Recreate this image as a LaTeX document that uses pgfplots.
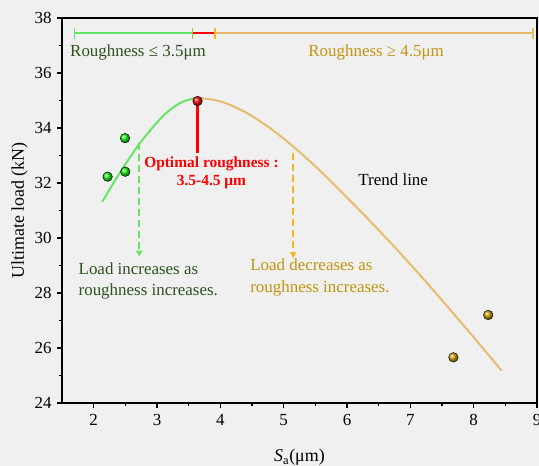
\documentclass[border=0pt]{standalone}
\usepackage{pgfplots}
\pgfplotsset{compat=1.18}
\usepackage{fontspec}
\setmainfont{Liberation Serif}
\usetikzlibrary{arrows.meta}
\definecolor{bg}{RGB}{240,240,240}
\definecolor{lgreen}{RGB}{102,228,102}
\definecolor{dgreen}{RGB}{45,82,30}
\definecolor{tancol}{RGB}{230,188,110}
\definecolor{goldtext}{RGB}{196,148,16}
\definecolor{ogold}{RGB}{242,182,30}
\definecolor{olivecap}{RGB}{150,200,60}
\definecolor{pured}{RGB}{255,0,0}
\definecolor{ballgreen}{RGB}{20,235,20}
\definecolor{ballgold}{RGB}{205,155,0}
\begin{document}
\begin{tikzpicture}
\fill[bg] (-62bp,-63bp) rectangle (477bp,403bp);
\begin{axis}[
  at={(0,0)}, anchor=south west, scale only axis,
  width=475bp, height=385bp,
  xmin=1.5, xmax=9, ymin=24, ymax=38,
  xtick={2,...,9}, ytick={24,26,...,38},
  minor x tick num=1, minor y tick num=1,
  tick align=outside, xtick pos=left, ytick pos=left,
  major tick length=5bp, minor tick length=3bp,
  axis line style={line width=1.5bp, black},
  every tick/.style={line width=1.4bp, black},
  ticklabel style={font=\fontsize{17}{20}\selectfont},
  yticklabel style={xshift=-2bp},
  xticklabel style={yshift=-3bp},
  /pgf/number format/assume math mode=true,
  xlabel={\textit{S}\textsubscript{a}(μm)},
  ylabel={Ultimate load (kN)},
  every axis x label/.style={at={([yshift=-58.5bp]axis description cs:0.5,0)}, anchor=base, font=\fontsize{18}{21}\selectfont},
  every axis y label/.style={at={([xshift=-38bp]axis description cs:0,0.5)}, rotate=90, anchor=base, font=\fontsize{18}{21}\selectfont},
  clip=false,
]
% trend line
\addplot[color=lgreen, line width=2bp, smooth] coordinates {(2.136,31.32) (2.3,31.95) (2.5,32.68) (2.73,33.45) (3.0,34.20) (3.2,34.65) (3.4,34.95) (3.63,35.10)};
\addplot[color=tancol, line width=2bp, smooth] coordinates {(3.63,35.10) (4.0,34.97) (4.4,34.57) (4.8,33.97) (5.2,33.23) (5.6,32.39) (6.0,31.47) (6.4,30.53) (6.8,29.55) (7.2,28.53) (7.6,27.47) (8.0,26.39) (8.44,25.18)};
% range bars
\addplot[color=lgreen, line width=1.8bp] coordinates {(1.70,37.44) (3.56,37.44)};
\addplot[color=pured, line width=2bp] coordinates {(3.56,37.44) (3.92,37.44)};
\addplot[color=tancol, line width=1.8bp] coordinates {(3.92,37.44) (8.94,37.44)};
\addplot[color=lgreen, line width=1.6bp] coordinates {(1.70,37.24) (1.70,37.64)};
\addplot[color=olivecap, line width=1.6bp] coordinates {(3.56,37.24) (3.56,37.64)};
\addplot[color=ogold, line width=1.6bp] coordinates {(3.92,37.24) (3.92,37.64)};
\addplot[color=tancol, line width=1.6bp] coordinates {(8.94,37.24) (8.94,37.64)};
% red optimal line
\addplot[color=pured, line width=2.4bp] coordinates {(3.64,34.95) (3.64,33.10)};
% arrows
\addplot[color=lgreen, line width=1.8bp, dash pattern=on 7bp off 4bp, -{Triangle[length=6bp,width=6bp]}] coordinates {(2.72,33.45) (2.72,29.32)};
\addplot[color=ogold, line width=1.8bp, dash pattern=on 7bp off 4bp, -{Triangle[length=6bp,width=6bp]}] coordinates {(5.15,33.10) (5.15,29.27)};
% data points
\addplot[only marks, mark=ball, mark size=4.8bp, mark options={ball color=ballgreen}] coordinates {(2.22,32.23) (2.495,33.63) (2.50,32.41)};
\addplot[only marks, mark=ball, mark size=4.8bp, mark options={ball color=pured}] coordinates {(3.64,34.98)};
\addplot[only marks, mark=ball, mark size=4.8bp, mark options={ball color=ballgold}] coordinates {(8.23,27.20) (7.68,25.66)};
% texts
\node[text=dgreen, font=\fontsize{17}{20}\selectfont] at (axis cs:2.70,36.73) {Roughness ≤ 3.5μm};
\node[text=goldtext, font=\fontsize{17}{20}\selectfont] at (axis cs:6.46,36.73) {Roughness ≥ 4.5μm};
\node[text=pured, font=\bfseries\fontsize{15.5}{17.7}\selectfont, align=center] at (axis cs:3.86,32.37) {Optimal roughness :\\3.5-4.5 μm};
\node[text=black, font=\fontsize{17}{20}\selectfont] at (axis cs:6.73,32.11) {Trend line};
\node[text=dgreen, font=\fontsize{17}{21}\selectfont, align=left, anchor=west, inner sep=0pt] at (axis cs:1.76,28.45) {Load increases as\\roughness increases.};
\node[text=goldtext, font=\fontsize{17}{22}\selectfont, align=left, anchor=west, inner sep=0pt] at (axis cs:4.47,28.55) {Load decreases as\\roughness increases.};
\end{axis}
\pgfresetboundingbox
\useasboundingbox (-62bp,-63bp) rectangle (477bp,403bp);
\end{tikzpicture}
\end{document}
